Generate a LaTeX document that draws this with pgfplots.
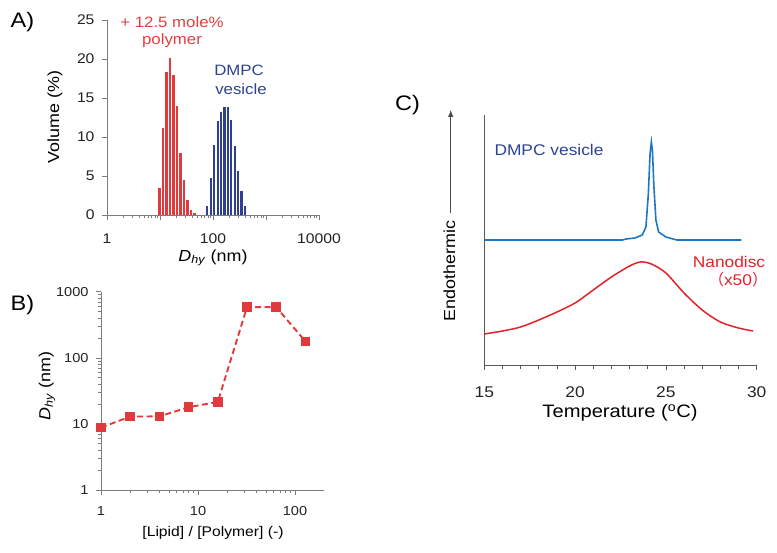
\documentclass[border=0pt]{standalone}
\usepackage{pgfplots}
\pgfplotsset{compat=1.18}
\usetikzlibrary{arrows.meta}
\usepackage{fontspec}
\setmainfont{Liberation Sans}[FakeStretch=1.12]
\newfontfamily\cjk{Noto Sans CJK SC}
\definecolor{barred}{RGB}{226,58,60}
\definecolor{navy}{RGB}{48,64,145}
\definecolor{dscblue}{RGB}{28,118,200}
\definecolor{curvered}{RGB}{228,32,40}
\definecolor{txtred}{RGB}{228,62,64}
\definecolor{txtblue}{RGB}{44,66,150}
\definecolor{axgray}{RGB}{125,125,125}
\definecolor{tickcol}{RGB}{35,35,35}
\newcommand{\fs}[1]{\fontsize{#1}{#1}\selectfont}

\pgfplotstableread{
D vol
9.70 3.4
11.29 11.2
13.21 18.3
15.37 20.1
17.97 18.0
20.93 14.0
24.37 7.9
28.50 4.5
33.18 1.9
38.79 0.7
45.15 0.2
}\redbars

\pgfplotstableread{
D vol
78.1 1.2
91.3 4.8
105.8 9.0
122.7 12.0
142.2 13.2
164.8 13.8
191.1 13.8
221.4 12.2
256.7 8.9
297.6 5.7
344.9 3.1
399.9 1.2
}\bluebars

\pgfplotstableread{
r D
1 8.8
2 12.9
4 13.0
8 17.9
16 21.5
32 585
64 585
128 177
}\ratio

\pgfplotstableread{
T h
15.0 125
18.0 125
21.0 125
22.6 125
22.8 126
23.3 127
23.7 130
23.9 138
24.03 170
24.13 212
24.2 223
24.26 214
24.34 178
24.45 145
24.6 133
25.0 128
25.6 125
27.0 125
29.15 125
}\dmpc

\pgfplotstableread{
T h
15.0 31
16.0 34
17.0 38
18.0 45
19.0 53
20.0 62
21.0 75
22.0 88
23.0 99
23.6 103
24.2 101
25.0 92
26.0 72
27.0 55
28.0 43
29.0 37
29.8 34
}\nanodisc

\begin{document}
\begin{tikzpicture}[x=1pt,y=1pt]
\path[use as bounding box] (0,0) rectangle (777,-553);

% ---------------- Panel A ----------------
\begin{axis}[
  at={(107pt,-215pt)}, anchor=south west,
  scale only axis, width=212pt, height=195pt,
  xmode=log, xmin=1, xmax=10000, ymin=0, ymax=25,
  axis x line*=bottom, axis y line*=left,
  axis line style={-, draw=axgray, line width=0.8pt},
  xtick={1,10,100,1000,10000}, xticklabels={1,,100,,10000},
  ytick={0,5,10,15,20,25},
  tick align=outside, major tick length=5pt, minor tick length=3pt,
  every tick/.style={draw=axgray, line width=0.6pt},
  tick label style={font=\fs{14}, text=tickcol},
  /pgf/number format/assume math mode=true,
  xticklabel style={yshift=-10pt},
  yticklabel style={xshift=-4pt},
  clip=false,
]
\addplot[ycomb, draw=barred, line width=2.5pt, mark=none] table[x=D,y=vol] {\redbars};
\addplot[ycomb, draw=navy, line width=2.3pt, mark=none] table[x=D,y=vol] {\bluebars};
\end{axis}

\node[font=\fs{21}] at (22.5,-21.7) {A)};
\node[font=\fs{15}, text=txtred] at (172,-21.7) {+ 12.5 mole\%};
\node[font=\fs{15}, text=txtred] at (172,-40.5) {polymer};
\node[font=\fs{15}, text=txtblue] at (239,-70) {DMPC};
\node[font=\fs{15}, text=txtblue] at (241,-89) {vesicle};
\node[font=\fs{16}, rotate=90] at (55,-117) {Volume (\%)};
\node[font=\fs{16}] at (213,-258) {\textit{D}\textsubscript{\textit{hy}} (nm)};

% ---------------- Panel B ----------------
\begin{axis}[
  at={(101pt,-490pt)}, anchor=south west,
  scale only axis, width=223.2pt, height=198.3pt,
  xmode=log, ymode=log, xmin=1, xmax=200, ymin=1, ymax=1000,
  axis x line*=bottom, axis y line*=left,
  axis line style={-, draw=axgray, line width=0.8pt},
  xtick={1,10,100}, xticklabels={1,10,100},
  ytick={1,10,100,1000}, yticklabels={1,10,100,1000},
  tick align=outside, major tick length=5pt, minor tick length=3pt,
  every tick/.style={draw=axgray, line width=0.6pt},
  tick label style={font=\fs{13}, text=tickcol},
  /pgf/number format/assume math mode=true,
  xticklabel style={yshift=-8pt},
  yticklabel style={xshift=-4pt},
  clip=false,
]
\addplot[draw=barred, line width=1.9pt, dash pattern=on 6pt off 3.5pt,
  mark=square*, mark size=3.8pt, mark options={solid, fill=barred, draw=barred}]
  table[x=r,y=D] {\ratio};
\end{axis}

\node[font=\fs{21}] at (22.5,-305) {B)};
\node[font=\fs{16}, rotate=90] at (47,-386) {\textit{D}\textsubscript{\textit{hy}} (nm)};
\node[font=\fs{14}] at (213,-533) {[Lipid] / [Polymer] (-)};

% ---------------- Panel C ----------------
\begin{axis}[
  at={(484.3pt,-365pt)}, anchor=south west,
  scale only axis, width=272.4pt, height=250pt,
  xmin=15, xmax=30, ymin=0, ymax=250,
  axis x line*=bottom, axis y line*=left,
  axis line style={-, draw=black!65, line width=0.8pt},
  xtick={15,20,25,30}, minor x tick num=4, ytick=\empty,
  tick align=outside, major tick length=5pt, minor tick length=4pt,
  every tick/.style={draw=black!65, line width=0.6pt},
  tick label style={font=\fs{15.5}, text=tickcol},
  /pgf/number format/assume math mode=true,
  xticklabel style={yshift=-13pt},
  clip=false,
]
\addplot[draw=dscblue, line width=1.6pt, mark=none] table[x=T,y=h] {\dmpc};
\addplot[draw=curvered, line width=1.5pt, mark=none, smooth, tension=0.5] table[x=T,y=h] {\nanodisc};
\end{axis}

\node[font=\fs{21}] at (407.5,-105) {C)};
\draw[black!70, line width=0.8pt, -{Latex[length=7pt,width=5.5pt]}] (450.7,-213) -- (450.7,-110);
\node[font=\fs{16}, rotate=90] at (449.3,-271) {Endothermic};
\node[font=\fs{18}] at (620,-413) {Temperature (\textsuperscript{o}C)};
\node[font=\fs{15.5}, text=txtblue] at (549,-150) {DMPC vesicle};
\node[font=\fs{15.5}, text=curvered] at (729,-261.7) {Nanodisc};
\node[font=\fs{15.5}, text=curvered] at (738,-280) {{\cjk （}x50{\cjk ）}};
\end{tikzpicture}
\end{document}
